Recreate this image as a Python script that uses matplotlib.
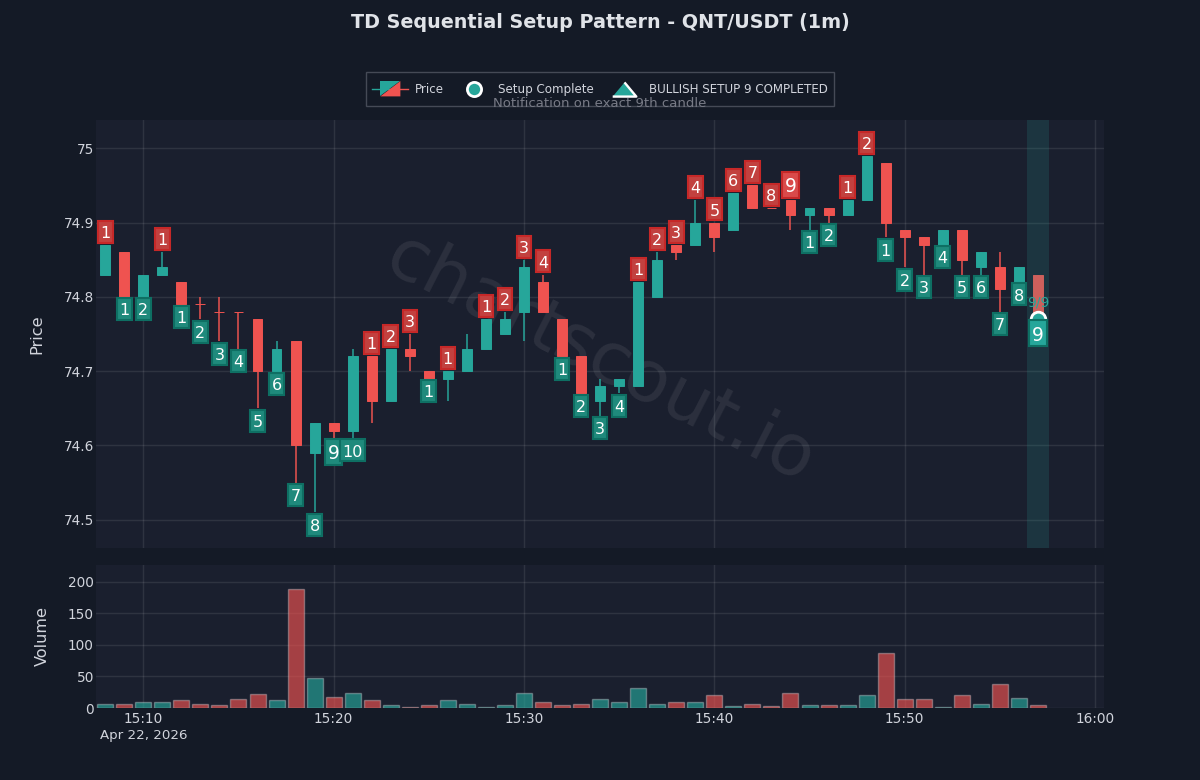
import matplotlib
matplotlib.use("Agg")
import matplotlib.pyplot as plt
import numpy as np
from matplotlib.legend_handler import HandlerBase
from matplotlib.lines import Line2D
from matplotlib.patches import Polygon, Patch
from matplotlib.path import Path

# minutes after 15:00
minutes = list(range(8, 58))
opens = [74.83,74.86,74.80,74.83,74.82,74.79,74.78,74.78,74.77,74.70,
         74.74,74.59,74.63,74.62,74.72,74.66,74.73,74.70,74.69,74.70,
         74.73,74.75,74.78,74.82,74.77,74.72,74.66,74.68,74.68,74.80,
         74.87,74.87,74.90,74.89,74.95,74.92,74.93,74.91,74.92,74.91,
         74.93,74.98,74.89,74.88,74.87,74.89,74.84,74.84,74.82,74.83]
closes = [74.87,74.80,74.83,74.84,74.79,74.79,74.78,74.78,74.70,74.73,
          74.60,74.63,74.62,74.72,74.66,74.73,74.72,74.69,74.70,74.73,
          74.77,74.77,74.84,74.78,74.72,74.67,74.68,74.69,74.82,74.85,
          74.86,74.90,74.88,74.94,74.92,74.92,74.91,74.92,74.91,74.93,
          74.99,74.90,74.88,74.87,74.89,74.85,74.86,74.81,74.84,74.77]
highs = [74.87,74.86,74.83,74.86,74.82,74.80,74.80,74.78,74.77,74.74,
         74.74,74.63,74.63,74.73,74.72,74.73,74.75,74.70,74.70,74.75,
         74.77,74.78,74.85,74.83,74.77,74.72,74.69,74.69,74.82,74.86,
         74.87,74.93,74.90,74.94,74.95,74.92,74.93,74.92,74.92,74.93,
         74.99,74.98,74.89,74.88,74.89,74.89,74.86,74.86,74.84,74.83]
lows = [74.83,74.80,74.80,74.83,74.79,74.77,74.74,74.73,74.65,74.70,
        74.55,74.51,74.61,74.61,74.63,74.66,74.70,74.69,74.66,74.70,
        74.73,74.75,74.74,74.78,74.72,74.67,74.64,74.67,74.68,74.80,
        74.85,74.87,74.86,74.89,74.92,74.92,74.89,74.89,74.90,74.91,
        74.93,74.88,74.84,74.83,74.87,74.83,74.83,74.78,74.82,74.77]
volumes = [6,7,10,10,12,6,5,15,22,12,188,47,17,24,13,5,2,4,13,6,2,5,24,9,5,7,15,
           10,32,7,9,9.5,21,3,7,3,23,4,5,4,21,87,15,14,2,21,6,38,16,5]
# positive: label above the candle, negative: below, 0: no label
setup_counts = [1,-1,-2,1,-1,-2,-3,-4,-5,-6,-7,-8,-9,-10,1,2,3,-1,1,0,1,2,3,4,
                -1,-2,-3,-4,1,2,3,4,5,6,7,8,9,-1,-2,1,2,-1,-2,-3,-4,-5,-6,-7,-8,-9]
setup_minute = 57
setup_price = 74.77
x_ticks = [10, 20, 30, 40, 50, 60]
x_tick_labels = ["15:10", "15:20", "15:30", "15:40", "15:50", "16:00"]
price_ticks = [74.5, 74.6, 74.7, 74.8, 74.9, 75.0]
price_tick_labels = ["74.5", "74.6", "74.7", "74.8", "74.9", "75"]
volume_ticks = [0, 50, 100, 150, 200]

BG = "#141a26"
PANEL = "#1a1f2e"
TEAL = "#26a69a"
RED = "#ef5350"
TXT = "#d1d4dc"
W, H = 1200, 780
plt.rcParams["font.family"] = ["DejaVu Sans"]

fig = plt.figure(figsize=(W / 100, H / 100), dpi=100, facecolor=BG)


def px_axes(l, t, r, b):
    return fig.add_axes([l / W, 1 - b / H, (r - l) / W, (b - t) / H])


ax = px_axes(96, 120, 1104, 548)
vax = px_axes(96, 565, 1104, 708)
for a in (ax, vax):
    a.set_facecolor(PANEL)
    a.set_xlim(7.515, 60.47)
    a.set_xticks(x_ticks)
    a.grid(True, color="#ffffff", alpha=0.09, lw=1.0)
    a.set_axisbelow(True)
    for s in a.spines.values():
        s.set_visible(False)
    a.tick_params(length=0, colors=TXT, labelsize=9.8)
    a.tick_params(axis="x", pad=3)
    a.tick_params(axis="y", pad=1.5)

ax.set_ylim(74.462, 75.038)
ax.set_yticks(price_ticks)
ax.set_yticklabels(price_tick_labels)
ax.tick_params(axis="x", labelbottom=False)
ax.set_ylabel("Price", color=TXT, fontsize=11.6)
ax.yaxis.set_label_coords((44.5 - 96) / 1008, 0.5)

vax.set_ylim(0, 226.5)
vax.set_yticks(volume_ticks)
vax.set_xticklabels(x_tick_labels)
vax.set_ylabel("Volume", color=TXT, fontsize=11.6)
vax.yaxis.set_label_coords((50 - 96) / 1008, 0.5)

colors = [TEAL if c > o else RED for o, c in zip(opens, closes)]
bottoms = [min(o, c) for o, c in zip(opens, closes)]
heights = [abs(c - o) for o, c in zip(opens, closes)]

ax.text(0.5, 0.44, "chartscout.io", transform=ax.transAxes, rotation=-27,
        ha="center", va="center", fontsize=52, color="#ffffff", alpha=0.08, zorder=1)
ax.vlines(minutes, lows, highs, colors=colors, lw=1.2, alpha=0.9, zorder=2)
ax.bar(minutes, heights, bottom=bottoms, width=0.52, color=colors,
       edgecolor=colors, lw=0.7, zorder=3)
ax.axvspan(setup_minute - 0.6, setup_minute + 0.6, color=TEAL, alpha=0.17, lw=0, zorder=4)

ax.plot([setup_minute], [setup_price], "o", ms=10.5, mfc=TEAL, mec="white", mew=2, zorder=5)
ax.annotate("9/9", (setup_minute, setup_price), xytext=(0, 17), textcoords="offset pixels",
            ha="center", va="center", fontsize=10, color=TEAL, zorder=5)


def label_box(x0, y0, w, h, mutation_size):
    """Tall rectangular tag around a digit (display pixels)."""
    bw = w + 0.28 * mutation_size
    bh = 1.38 * mutation_size
    cx = x0 + w / 2
    cy = y0 + h / 2 + 0.1 * mutation_size
    return Path([(cx - bw / 2, cy - bh / 2), (cx + bw / 2, cy - bh / 2),
                 (cx + bw / 2, cy + bh / 2), (cx - bw / 2, cy + bh / 2),
                 (cx - bw / 2, cy - bh / 2)],
                [Path.MOVETO, Path.LINETO, Path.LINETO, Path.LINETO, Path.CLOSEPOLY])


for m, n, hi, lo in zip(minutes, setup_counts, highs, lows):
    if n == 0:
        continue
    above = n > 0
    big = abs(n) == 9
    last = m == setup_minute
    if above:
        fc, ec = ("#d94a4a" if big else "#c2413f"), "#c62828"
    else:
        fc, ec = (TEAL if last else "#1f8a7c"), "#0e6f63"
    half = (1.38 * (13.5 if big else 11.5) * 100 / 72 + 2) / 2
    ax.annotate(str(abs(n)), (m, hi if above else lo),
                xytext=(0, half - 0.5 if above else -half - 2), textcoords="offset pixels",
                ha="center", va="center",
                fontsize=13.5 if big else 11.5, color="white", zorder=6,
                bbox=dict(boxstyle=label_box, fc=fc, ec=ec, lw=1.5))

vax.bar(minutes, volumes, width=0.84,
        color=[matplotlib.colors.to_rgba(c, 0.65) for c in colors],
        edgecolor=(1, 1, 1, 0.3), lw=1, zorder=2)

fig.text(600 / W, 1 - 22 / H, "TD Sequential Setup Pattern - QNT/USDT (1m)", ha="center",
         va="center", fontsize=13.8, fontweight="bold", color="#e0e3e8")
fig.text(600 / W, 1 - 103.5 / H, "Notification on exact 9th candle", ha="center",
         va="center", fontsize=9.5, color="#787b86", zorder=10)
fig.text(100 / W, 1 - 735 / H, "Apr 22, 2026", ha="left", va="center", fontsize=9.6, color=TXT)


class PriceHandler(HandlerBase):
    def create_artists(self, legend, orig, xd, yd, w, h, fs, trans):
        cy = 0.33 * fs
        cx = -xd + w / 2
        a = Line2D([-xd, cx], [cy, cy], color=TEAL, lw=1, transform=trans)
        b = Line2D([cx, -xd + w], [cy, cy], color=RED, lw=1, transform=trans)
        l, r, t, bt = cx - 7.2, cx + 7.2, cy + 5.5, cy - 5.5
        up = Polygon([(l, bt), (l, t), (r, t)], fc=TEAL, ec="none", transform=trans)
        dn = Polygon([(l, bt), (r, t), (r, bt)], fc=RED, ec="none", transform=trans)
        return [a, b, up, dn]


class MarkerHandler(HandlerBase):
    def create_artists(self, legend, orig, xd, yd, w, h, fs, trans):
        m = Line2D([-xd + w / 2], [0.33 * fs], ls="none", marker=orig.get_marker(),
                   ms=orig.get_markersize(), mfc=orig.get_markerfacecolor(),
                   mec=orig.get_markeredgecolor(), mew=orig.get_markeredgewidth(),
                   transform=trans)
        return [m]


price_handle = Patch(label="Price")
circle_handle = Line2D([], [], ls="none", marker="o", ms=10.2, mfc=TEAL, mec="white", mew=2,
                       label="Setup Complete")
tri_handle = Line2D([], [], ls="none", marker=[(-1, -0.6), (1, -0.6), (0, 0.6)], ms=17,
                    mfc=TEAL, mec="white", mew=1.7, label="BULLISH SETUP 9 COMPLETED")
leg = fig.legend(handles=[price_handle, circle_handle, tri_handle],
                 handler_map={Patch: PriceHandler(), Line2D: MarkerHandler()},
                 ncols=3, loc="center",
                 bbox_to_anchor=(600 / W, 1 - 89 / H), frameon=True, fontsize=8.6,
                 facecolor=BG, edgecolor="#454a56", labelcolor=TXT, fancybox=False,
                 framealpha=1, handlelength=3, handleheight=2.35, columnspacing=1.0,
                 handletextpad=0.56, borderpad=0.5)
leg.get_frame().set_linewidth(1)
leg.set_zorder(5)

fig.savefig("out.png", dpi=100, facecolor=BG)
